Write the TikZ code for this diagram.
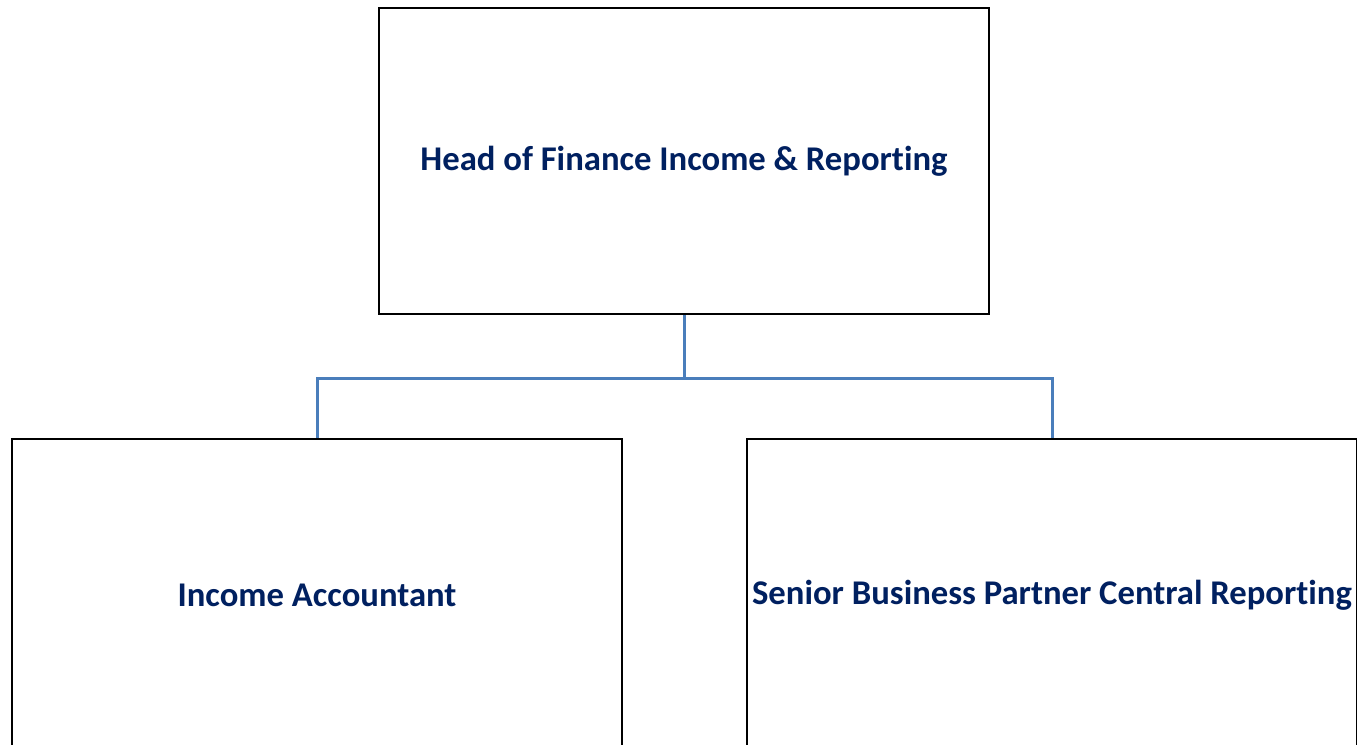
\documentclass[tikz,border=0pt]{standalone}
\usepackage{fontspec}
\setmainfont{Carlito}[Ligatures=NoCommon]
\usetikzlibrary{positioning}
\definecolor{rolenavy}{RGB}{0,32,96}
\definecolor{linkblue}{RGB}{74,126,187}
\tikzset{
	role/.style={draw=black, rectangle, line width=1.5pt, minimum width=457.5pt, minimum height=229.5pt, inner sep=0pt, fill=white, text=rolenavy, font=\fontsize{26}{31}\selectfont\bfseries},
	link/.style={draw=linkblue, line width=2.25pt},
}
\begin{document}
\begin{tikzpicture}
			\useasboundingbox (0,0) rectangle (1017.75pt,-558pt);
			\clip (0,0) rectangle (1017.75pt,-558pt);
			
			\node (head) [role] at (513pt,-120.75pt) {Head of Finance Income \& Reporting};
			
			\node (acc) [role, minimum height=234pt, below of=head, node distance=325.5pt, xshift=-275.25pt] {Income Accountant};
			\node (sbp) [role, minimum height=234pt, below of=head, node distance=325.5pt, xshift=276pt] {Senior Business Partner Central Reporting};
			
			\coordinate (split) at ([yshift=-47.25pt]head.south);
			
			\begin{scope}[link]
				\draw (head) -- (split);
				\draw (split) -| (acc);
				\draw (split) -| (sbp);
			\end{scope}
			
		\end{tikzpicture}
\end{document}
